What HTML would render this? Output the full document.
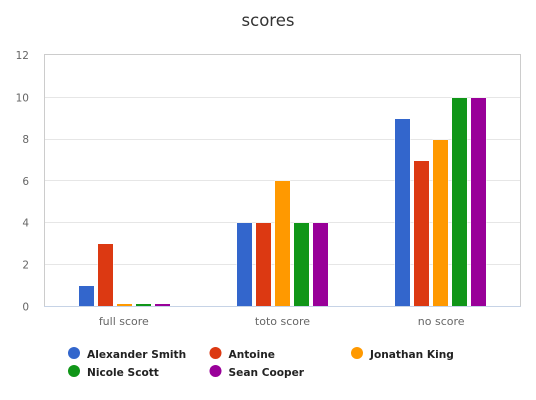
<!DOCTYPE html>
<html>
<head>
<meta charset="utf-8">
<style>
html,body{margin:0;padding:0;background:#fff;width:536px;height:400px;overflow:hidden}
svg{display:block;font-family:"DejaVu Sans","Liberation Sans",sans-serif}
</style>
</head>
<body>
<svg id="chart" width="536" height="400" viewBox="0 0 536 400" xmlns="http://www.w3.org/2000/svg">
<rect x="0" y="0" width="536" height="400" fill="#ffffff"/>
<text x="268" y="26" text-anchor="middle" font-size="16.5" fill="#333333">scores</text>
<g id="plot"></g>
<g id="legend"></g>
</svg>
<script>
const categories = ['full score', 'toto score', 'no score'];
const seriesNames = ['Alexander Smith', 'Antoine', 'Jonathan King', 'Nicole Scott', 'Sean Cooper'];
const seriesColors = ['#3366cc', '#dc3912', '#ff9900', '#109618', '#990099'];
const alexanderSmith = [1, 4, 9];
const antoine = [3, 4, 7];
const jonathanKing = [0, 6, 8];
const nicoleScott = [0, 4, 10];
const seanCooper = [0, 4, 10];
const yTicks = [0, 2, 4, 6, 8, 10, 12];

const seriesValues = [alexanderSmith, antoine, jonathanKing, nicoleScott, seanCooper];
const NS = 'http://www.w3.org/2000/svg';
const plot = document.getElementById('plot');
const legend = document.getElementById('legend');
const left = 44.5, right = 520.5, top0 = 54.5, zeroY = 306.3, unit = 20.9;
const firstBarX = 79, groupStep = 158, barW = 15, barStep = 19, minH = 2;

function yPos(v) { return zeroY - v * unit; }
function catCenter(i) { return left + (right - left) * (i + 0.5) / categories.length; }
function mk(tag, attrs, parent) {
  const e = document.createElementNS(NS, tag);
  for (const k in attrs) e.setAttribute(k, attrs[k]);
  parent.appendChild(e);
  return e;
}

yTicks.forEach(function (t) {
  if (t !== 0 && t !== 12) {
    const line = mk('line', { x1: left, x2: right, y1: Math.floor(yPos(t)) + 0.5, y2: Math.floor(yPos(t)) + 0.5, stroke: '#e6e6e6', 'stroke-width': 1 }, plot);
    
    
  }
  const label = mk('text', { x: 29, y: t === 12 ? 59 : yPos(t) + 4, 'text-anchor': 'end', 'font-size': 10.5, fill: '#666666' }, plot);
  label.textContent = String(t);
  
  
});

seriesValues.forEach(function (vals, s) {
  vals.forEach(function (v, c) {
    const x = firstBarX + c * groupStep + s * barStep;
    const bottom = 306;
    let topY = Math.ceil(yPos(v));
    if (bottom - topY < minH) topY = bottom - minH;
    const bar = mk('rect', { x: x, y: topY, width: barW, height: bottom - topY, fill: seriesColors[s], stroke: '#ffffff', 'stroke-width': 1, 'paint-order': 'stroke' }, plot);
    
    
  });
});

const border = mk('path', { d: 'M' + left + ' 306V' + top0 + 'H' + right + 'V306', fill: 'none', stroke: '#cccccc', 'stroke-width': 1 }, plot);



const axis = mk('line', { x1: left - 0.5, x2: right + 0.5, y1: 306.5, y2: 306.5, stroke: '#c6d3e6', 'stroke-width': 1 }, plot);



categories.forEach(function (name, i) {
  const label = mk('text', { x: catCenter(i), y: 325, 'text-anchor': 'middle', 'font-size': 11, fill: '#666666' }, plot);
  label.textContent = name;
  
  
});

seriesNames.forEach(function (name, i) {
  const col = i % 3, row = Math.floor(i / 3);
  const cx = 74 + col * 141.5, cy = 353 + row * 18;
  const entry = mk('g', {}, legend);
  
  
  const marker = mk('circle', { cx: cx, cy: cy, r: 6, fill: seriesColors[i] }, entry);
  
  
  const label = mk('text', { x: cx + 13, y: cy + 5, 'font-size': 10.6, 'font-weight': 'bold', fill: '#222222' }, entry);
  label.textContent = name;
  
  
});
</script>
</body>
</html>
